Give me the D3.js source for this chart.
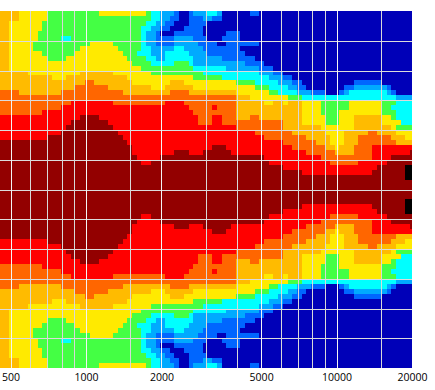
<!DOCTYPE html>
<html><head><meta charset="utf-8">
<script src="https://d3js.org/d3.v7.min.js"></script>
<style>html,body{margin:0;padding:0;background:#fff}svg{display:block}</style>
</head><body><div id="chart"></div>
<script>
const freqEdges=[454,474,495,517,540,564,589,615,642,670,700,731,763,797,832,869,908,948,990,1034,1080,1127,1177,1229,1284,1341,1400,1462,1527,1594,1665,1739,1816,1896,1980,2068,2159,2255,2355,2459,2568,2682,2800,2924,3054,3189,3330,3477,3631,3792,3960,4135,4318,4509,4709,4917,5135,5362,5600,5847,6106,6377,6659,6954,7261,7583,7918,8269,8635,9017,9416,9833,10268,10723,11197,11693,12211,12751,13316,13905,14521,15164,15835,16536,17268,18032,18830,19664,20000];
const angleRows=[180,175,170,165,160,155,150,145,140,135,130,125,120,115,110,105,100,95,90,85,80,75,70,65,60,55,50,45,40,35,30,25,20,15,10,5];
const bandColors=["#000000","#930000","#ff0000","#ff6600","#ffbb00","#ffea00","#44ff44","#00ffff","#00aaff","#0066ff","#0000b8"];
const bandRuns=[
[[4,4],[5,10],[6,21],[5,31],[6,32],[7,34],[8,37],[9,38],[10,40],[9,41],[8,44],[7,46],[8,47],[10,53],[9,55],[10,88]],
[[4,4],[5,10],[6,32],[7,34],[8,36],[9,38],[10,40],[9,43],[8,45],[9,47],[10,88]],
[[4,2],[5,9],[6,31],[7,33],[8,35],[9,37],[10,40],[9,44],[10,88]],
[[4,2],[5,9],[6,30],[7,32],[8,34],[9,36],[10,39],[9,43],[10,88]],
[[4,2],[5,8],[6,30],[7,31],[8,33],[9,34],[10,37],[9,43],[10,48],[9,51],[10,88]],
[[4,2],[5,8],[6,13],[7,15],[6,30],[7,31],[8,33],[9,37],[8,41],[9,44],[10,47],[9,51],[10,88]],
[[4,2],[5,7],[6,19],[5,24],[6,30],[7,31],[8,33],[9,37],[8,42],[9,46],[10,48],[9,55],[10,88]],
[[4,2],[5,7],[6,17],[5,25],[6,30],[7,32],[8,37],[7,39],[8,43],[9,51],[10,88]],
[[4,2],[5,9],[6,16],[5,26],[6,29],[7,32],[8,35],[7,40],[8,44],[9,52],[10,88]],
[[4,2],[5,10],[6,14],[5,27],[6,31],[7,33],[8,35],[7,41],[8,47],[9,54],[10,88]],
[[4,2],[5,28],[6,32],[7,37],[6,40],[7,41],[8,52],[9,56],[10,88]],
[[4,2],[5,30],[6,41],[7,48],[8,55],[9,58],[10,88]],
[[4,6],[5,17],[4,24],[5,32],[6,43],[7,55],[8,58],[9,60],[10,88]],
[[4,11],[5,14],[4,27],[5,41],[6,47],[7,57],[8,60],[9,62],[10,88]],
[[4,18],[3,20],[4,28],[5,36],[4,39],[5,50],[6,54],[7,59],[8,62],[9,64],[10,75],[9,81],[10,88]],
[[4,16],[3,23],[4,32],[5,35],[4,41],[5,54],[6,57],[7,61],[8,63],[9,65],[10,73],[9,75],[8,82],[9,83],[10,88]],
[[3,4],[4,13],[3,26],[4,36],[3,40],[4,50],[5,57],[6,59],[7,63],[8,66],[9,69],[10,72],[9,73],[8,74],[7,82],[8,83],[9,84],[10,88]],
[[3,50],[4,53],[5,61],[6,64],[7,84],[8,88]],
[[3,15],[2,24],[3,35],[2,39],[3,50],[4,56],[5,58],[4,60],[5,61],[4,64],[5,68],[6,74],[5,81],[6,84],[7,88]],
[[3,13],[2,40],[3,45],[2,46],[3,50],[4,64],[5,68],[6,74],[5,81],[6,83],[7,88]],
[[3,9],[2,41],[3,50],[4,64],[5,68],[6,72],[5,81],[6,84],[7,88]],
[[2,17],[1,21],[2,42],[3,45],[2,47],[3,50],[4,53],[3,55],[4,64],[5,69],[6,72],[5,75],[4,81],[5,83],[6,84],[7,88]],
[[2,15],[1,23],[2,42],[3,45],[2,47],[3,60],[4,64],[5,69],[6,72],[5,75],[4,81],[5,85],[7,88]],
[[2,14],[1,24],[2,50],[3,60],[4,68],[5,75],[4,83],[5,84],[6,88]],
[[2,13],[1,25],[2,54],[3,62],[4,69],[5,73],[4,78],[3,80],[4,84],[5,88]],
[[2,10],[1,26],[2,56],[3,65],[4,70],[5,73],[4,76],[3,83],[4,86],[5,88]],
[[1,27],[2,60],[3,67],[4,70],[5,73],[4,76],[3,84],[4,88]],
[[1,28],[2,45],[1,48],[2,62],[3,69],[4,71],[5,72],[4,75],[3,79],[2,88]],
[[1,28],[2,37],[1,40],[2,43],[1,49],[2,65],[3,71],[4,75],[3,79],[2,87],[1,88]],
[[1,29],[2,34],[1,56],[2,68],[3,79],[2,83],[1,88]],
[[1,30],[2,32],[1,57],[2,70],[3,76],[2,82],[1,88]],
[[1,60],[2,80],[1,86],[0,88]],
[[1,64],[2,79],[1,86],[0,88]],
[[1,86],[0,88]],
[[1,88]],
[[1,88]]
];
const labelTicks=[500,1000,2000,5000,10000,20000];
const minorFreqs=[600,700,800,900,1500,3000,4000,6000,7000,8000,9000,15000];
const angleTicks=[150,120,90,60,30,0,-30,-60,-90,-120,-150];

const W=435,H=390,m={l:0,t:11,r:23,b:22};
const x=d3.scaleLog().domain([454,20000]).range([m.l,W-m.r]);
const y=d3.scaleLinear().domain([180,-180]).range([m.t,H-m.b]);
const svg=d3.select("#chart").append("svg").attr("width",W).attr("height",H);

const cells=[];
bandRuns.forEach((runs,r)=>{
  let c0=0;
  runs.forEach(([band,end])=>{
    const a=angleRows[r];
    cells.push({band,f0:freqEdges[c0],f1:freqEdges[end],a0:a,a1:a-5});
    cells.push({band,f0:freqEdges[c0],f1:freqEdges[end],a0:-a+5,a1:-a});
    c0=end;
  });
});
svg.append("g").attr("shape-rendering","crispEdges").selectAll("rect").data(cells).join("rect")
  .attr("x",d=>x(d.f0)).attr("width",d=>x(d.f1)-x(d.f0))
  .attr("y",d=>y(d.a0)).attr("height",d=>y(d.a1)-y(d.a0))
  .attr("fill",d=>bandColors[d.band]);

const plotH=H-m.b-m.t, plotW=W-m.r-m.l;
function strip(g,color){g.select(".domain").remove();g.selectAll("line").attr("stroke",color).attr("stroke-width",1).attr("shape-rendering","crispEdges");g.selectAll("text").remove();}
svg.append("g").attr("transform",`translate(${m.l},${m.t})`)
  .call(d3.axisLeft(y.copy().range([0,plotH])).tickValues(angleTicks).tickSize(-plotW))
  .call(g=>strip(g,"#dcdcdc"));
svg.append("g").attr("transform",`translate(0,${H-m.b})`)
  .call(d3.axisBottom(x).tickValues(minorFreqs).tickSize(plotH).tickSizeInner(-plotH))
  .call(g=>strip(g,"#d8d8d8"));
svg.append("g").attr("transform",`translate(0,${H-m.b})`)
  .call(d3.axisBottom(x).tickValues(labelTicks.slice(0,-1)).tickSizeInner(-plotH))
  .call(g=>strip(g,"#f4f4f4"));
const ax=svg.append("g").attr("transform",`translate(0,${H-m.b})`)
  .call(d3.axisBottom(x).tickValues(labelTicks).tickFormat(d3.format("d")).tickSize(0).tickPadding(6));
ax.select(".domain").remove();
ax.selectAll("text").attr("font-family","'Open Sans',sans-serif").attr("font-size",10.5).attr("fill","#000");
</script></body></html>
